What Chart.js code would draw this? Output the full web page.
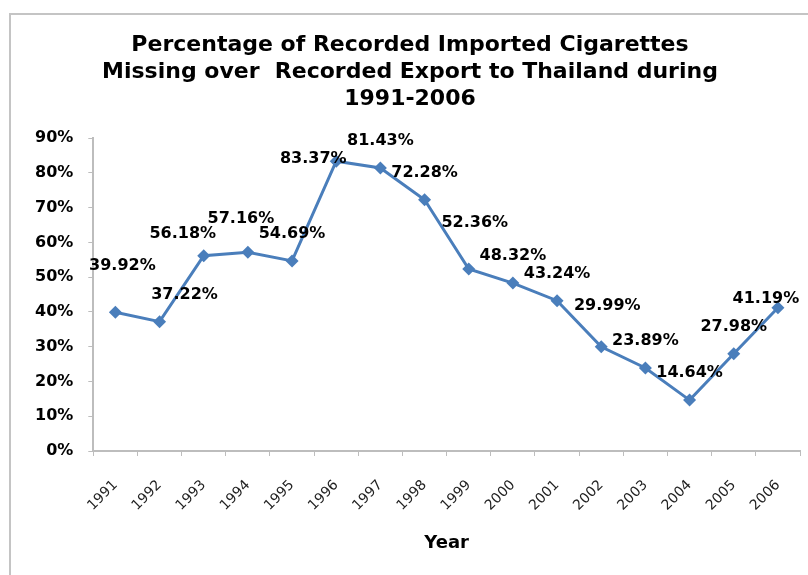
<!DOCTYPE html>
<html>
<head>
<meta charset="utf-8">
<script src="https://cdn.jsdelivr.net/npm/chart.js@4/dist/chart.umd.min.js"></script>
<style>
  body { margin: 0; background: #fff; }
  #wrap { position: relative; width: 808px; height: 575px; overflow: hidden; }
  #frame { position: absolute; left: 9px; top: 13px; width: 830px; height: 600px;
           border: 2px solid #c4c4c4; pointer-events: none; }
</style>
</head>
<body>
<div id="wrap">
  <canvas id="chart" width="808" height="575"></canvas>
  <div id="frame"></div>
</div>
<script>
const years = ["1991", "1992", "1993", "1994", "1995", "1996", "1997", "1998",
  "1999", "2000", "2001", "2002", "2003", "2004", "2005", "2006"];
const missingPct = [39.92, 37.22, 56.18, 57.16, 54.69, 83.37, 81.43, 72.28,
  52.36, 48.32, 43.24, 29.99, 23.89, 14.64, 27.98, 41.19];
const yTicks = [0, 10, 20, 30, 40, 50, 60, 70, 80, 90];
const titleLines = [
  "Percentage of Recorded Imported Cigarettes",
  "Missing over  Recorded Export to Thailand during",
  "1991-2006"
];

// labels were dragged around by hand in the original, so nudge a few
const labelNudge = { 0: [7, -19], 1: [25, 0], 2: [-21, 5], 3: [-7, -6],
  5: [-23, 25], 8: [6, -19], 11: [6, -14], 15: [-12, 18] };

const valueLabels = {
  id: "valueLabels",
  afterDatasetsDraw(chart) {
    const ctx = chart.ctx;
    const meta = chart.getDatasetMeta(0);
    ctx.save();
    ctx.font = "bold 16px 'DejaVu Sans'";
    ctx.fillStyle = "#000";
    ctx.textAlign = "center";
    ctx.textBaseline = "middle";
    meta.data.forEach((pt, i) => {
      const n = labelNudge[i] || [0, 0];
      ctx.fillText(missingPct[i].toFixed(2) + "%", pt.x + n[0], pt.y - 27 + n[1]);
    });
    ctx.restore();
  }
};

new Chart(document.getElementById("chart"), {
  type: "line",
  data: {
    labels: years,
    datasets: [{
      data: missingPct,
      borderColor: "#4a7ebb",
      backgroundColor: "#4a7ebb",
      borderWidth: 3,
      tension: 0,
      pointStyle: "rectRot",
      pointRadius: 6.5,
      pointBorderWidth: 0,
      pointBackgroundColor: "#4a7ebb"
    }]
  },
  options: {
    responsive: false,
    animation: false,
    layout: { padding: { left: 20, right: 8, top: 0, bottom: 21 } },
    plugins: {
      legend: { display: false },
      tooltip: { enabled: false },
      title: {
        display: true,
        text: titleLines,
        color: "#000",
        font: { family: "'DejaVu Sans'", weight: "bold", size: 22, lineHeight: 1.23 },
        padding: { top: 32, bottom: 25 }
      }
    },
    scales: {
      x: {
        offset: true,
        // chart.js reserves far more room for rotated labels than they use
        afterFit(scale) { scale.height = 103; scale.paddingRight = 0; },
        grid: { display: true, offset: true, drawOnChartArea: false, drawTicks: true,
                tickLength: 5, color: "#bdbdbd" },
        border: { display: true, color: "#bdbdbd", width: 2 },
        ticks: { color: "#222", minRotation: 45, maxRotation: 45, padding: 21,
                 font: { family: "'DejaVu Sans'", size: 14 } },
        title: { display: true, text: "Year", color: "#000", padding: 0,
                 font: { family: "'DejaVu Sans'", weight: "bold", size: 18 } }
      },
      y: {
        min: 0,
        max: 90,
        afterBuildTicks(scale) { scale.ticks = yTicks.map(v => ({ value: v })); },
        grid: { display: true, drawOnChartArea: false, drawTicks: true,
                tickLength: 5, color: "#bdbdbd" },
        border: { display: true, color: "#bdbdbd", width: 2 },
        ticks: { color: "#000", padding: 15, callback: v => v + "%",
                 font: { family: "'DejaVu Sans'", weight: "bold", size: 16 } }
      }
    }
  },
  plugins: [valueLabels]
});
</script>
</body>
</html>
